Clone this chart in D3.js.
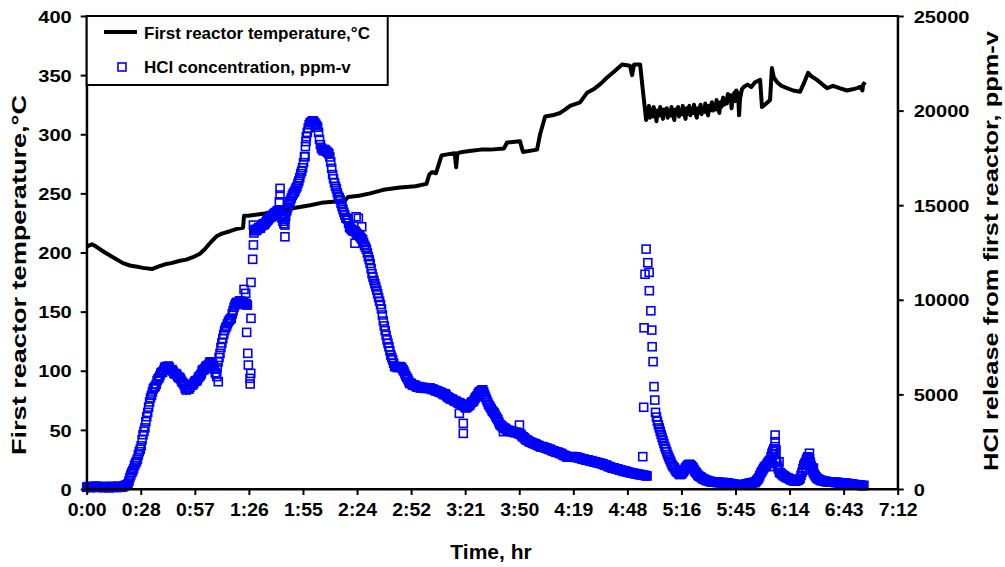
<!DOCTYPE html>
<html>
<head>
<meta charset="utf-8">
<script src="https://cdn.jsdelivr.net/npm/d3@7"></script>
<style>
    body { margin: 0; background: #fff; }
    svg text { font-family: "Liberation Sans", Arial, sans-serif; font-weight: bold; fill: #000; }
</style>
</head>
<body>
<svg id="chart" width="1005" height="567"></svg>
<script>
// Time axis, in minutes from start
const timeTicks = [0, 28.8, 57.6, 86.4, 115.2, 144, 172.8, 201.6, 230.4, 259.2, 288, 316.8, 345.6, 374.4, 403.2, 432];
const timeTickLabels = ['0:00', '0:28', '0:57', '1:26', '1:55', '2:24', '2:52', '3:21', '3:50', '4:19', '4:48', '5:16', '5:45', '6:14', '6:43', '7:12'];
const tempTicks = [0, 50, 100, 150, 200, 250, 300, 350, 400];
const hclTicks = [0, 5000, 10000, 15000, 20000, 25000];

const seriesNames = ['First reactor temperature,\u00B0C', 'HCl concentration, ppm-v'];

// First reactor temperature [minute, degC]
const reactorTemp = [
    [0, 205], [2.8, 207], [5, 205], [9.7, 200], [14, 196], [19.3, 191], [23, 189], [27, 188], [30, 187], [34.8, 186],
    [38, 188], [41.7, 190], [45, 191], [49.7, 193], [53, 194], [56.6, 196], [60.3, 199], [63, 203], [65.7, 208], [67.5, 211],
    [69.4, 214], [72, 216], [76.3, 218], [80, 220], [83.3, 221], [83.8, 231], [86, 231], [90, 232], [95, 233], [100, 235],
    [104, 235], [108.3, 237], [112, 238], [119, 240], [125, 242], [131.2, 243], [137.6, 244], [139.2, 247], [145, 248], [151, 250],
    [158, 253], [166.9, 255], [175, 256], [181, 258], [182.5, 266], [184, 268], [186, 267], [189, 282], [192, 283], [196, 284],
    [196.8, 272], [197.5, 284], [200, 285], [205, 286], [210, 287], [215, 287], [222.3, 288], [223.9, 293], [230.8, 294], [232.4, 285],
    [239.9, 287], [241.5, 300], [244.2, 315], [248, 316], [252.2, 318], [255, 321], [257.5, 324], [262.8, 327], [266.5, 335], [270, 338],
    [274, 343], [277.2, 348], [281, 353], [285.2, 359], [289.4, 358], [290.5, 350], [291.6, 359], [294.8, 359], [296.4, 335], [298, 312],
    [298.5, 322], [299, 316], [299.5, 324], [300, 314], [301, 321], [301.5, 315], [302, 323], [303, 317], [303.5, 311], [304, 320],
    [305, 316], [305.5, 323], [306, 318], [307, 313], [307.5, 321], [308, 317], [309, 322], [309.5, 314], [310, 320], [311, 316],
    [311.5, 323], [312, 318], [313, 312], [313.5, 321], [314, 317], [315, 323], [315.5, 315], [316, 320], [317, 317], [317.5, 324],
    [318, 318], [319, 313], [319.5, 322], [320, 317], [321, 324], [321.5, 316], [322, 321], [323, 318], [323.5, 325], [324, 319],
    [325, 314], [325.5, 322], [326, 318], [327, 325], [327.5, 317], [328, 322], [329, 319], [329.5, 326], [330, 320], [331, 316],
    [331.5, 324], [332, 320], [333, 327], [333.5, 320], [334, 325], [335, 321], [335.5, 329], [336, 323], [337, 318], [337.5, 327],
    [338, 323], [339, 331], [339.5, 325], [340, 330], [341, 326], [341.5, 334], [342, 328], [343, 333], [343.5, 322], [344, 330],
    [345, 335], [345.5, 328], [346, 337], [347, 334], [347.5, 316], [348, 330], [349, 338], [350, 340], [352, 342], [354, 340],
    [356, 344], [358.7, 346], [359.7, 323], [362, 326], [364, 329], [365, 356], [366, 348], [367.8, 344], [370, 341], [373, 339],
    [376.3, 337], [380, 336], [382, 343], [384.3, 352], [386, 349], [389, 346], [392, 342], [394.4, 339], [397.6, 341], [401, 339],
    [405, 337], [408, 338], [410.4, 339], [412, 340], [413.2, 337], [413.6, 342], [414.7, 344]
];

// HCl release, ppm-v. Logger readings on the minute and on the half minute (null = no reading)
const hclStepMin = 1;
const hclBandAStart = 0;
const hclBandA = [
    90, 130, 70, 120, 100, 150, 80, 110, 130, 70,
    120, 100, 60, 140, 90, 120, 80, 150, 100, 110,
    160, 200, 280, 600, 870, 1080, 1370, 1580, 1970, 2280,
    2870, 3230, 3820, 4330, 4820, 5130, 5380, 5530, 5820, 5980,
    6170, 6280, 6470, 6430, 6420, 6280, 6220, 6080, 6050, 5880,
    5820, 5630, 5470, 5230, 5320, 5380, 5520, 5580, 5720, 5780,
    5940, 6080, 6320, 6380, 6520, 6580, 6720, 6630, 6330, 6080,
    6720, 7170, 7720, 8180, 8520, 8730, 8920, 9030, 9420, 9730,
    9870, 9860, 9920, 9830, 9820, 9790, null, null, null, 13650,
    13720, 13740, 13820, 13880, 14020, 14030, 14170, 14280, 14420, 14430,
    14570, 14630, 14720, 14730, 14320, 14020, 14420, 14880, 15170, 15380,
    15620, 15780, 15980, 16280, 16670, 16980, 17570, 18620, 19080, 19360,
    19430, 19420, 19280, 19120, 18480, 18020, 17880, 17920, 17830, 17720,
    17280, 16620, 16180, 15870, 15480, 15290, 14930, 14620, 14330, 14270,
    13830, 13720, 13630, 13620, 13480, 13420, 13280, 13170, 12880, 12670,
    12280, 11920, 11380, 11020, 10680, 10320, 9930, 9520, 8880, 8370,
    7880, 7520, 7080, 6820, 6480, 6470, 6430, 6470, 6380, 6220,
    5980, 5820, 5580, 5570, 5480, 5470, 5380, 5400, 5340, 5370,
    5320, 5350, 5310, 5340, 5260, 5250, 5180, 5170, 5120, 5090,
    5000, 5030, 4870, 4820, 4750, 4730, 4640, 4620, 4540, 4530,
    4430, 4390, 4280, 4360, 4430, 4590, 4630, 4820, 4930, 5120,
    5180, 5240, 4980, 4720, 4480, 4320, 4130, 4020, 3830, 3670,
    3430, 3340, 3230, 3200, 3100, 3090, 3030, 3040, 2980, 3000,
    2930, 2910, 2780, 2720, 2600, 2570, 2480, 2460, 2400, 2390,
    2310, 2290, 2220, 2240, 2180, 2170, 2100, 2090, 2020, 2010,
    1940, 1950, 1880, 1870, 1780, 1760, 1680, 1700, 1690, 1720,
    1670, 1700, 1640, 1630, 1570, 1580, 1520, 1540, 1480, 1500,
    1430, 1440, 1380, 1390, 1340, 1330, 1260, 1250, 1180, 1170,
    1100, 1110, 1050, 1060, 990, 1000, 930, 950, 890, 880,
    850, 840, 810, 800, 770, 760, 730, 720, 700
];
// readings half a minute later than hclBandA
const hclBandAHalf = [
    110, 100, 90, 140, 120, 100, 130, 90, 100, 110,
    90, 130, 100, 110, 120, 90, 130, 110, 90, 130,
    190, 230, 420, 740, 960, 1250, 1460, 1800, 2100, 2600,
    3050, 3560, 4050, 4600, 4950, 5300, 5420, 5720, 5880, 6120,
    6180, 6420, 6380, 6500, 6300, 6310, 6120, 6100, 5950, 5900,
    5700, 5580, 5320, 5300, 5280, 5480, 5500, 5680, 5700, 5900,
    6000, 6250, 6300, 6480, 6500, 6700, 6620, 6500, 6150, 6400,
    6950, 7480, 7950, 8380, 8600, 8850, 8980, 9250, 9600, 9820,
    9780, 9950, 9850, 9900, 9740, null, null, null, null, 13700,
    13660, 13820, 13780, 13950, 13960, 14100, 14220, 14350, 14380, 14520,
    14600, 14700, 14680, 14500, 14150, 14250, 14700, 15050, 15250, 15520,
    15680, 15900, 16150, 16450, 16800, 17250, 18100, 18850, 19250, 19380,
    19460, 19350, 19200, 18850, 18200, 17950, 17950, 17850, 17780, 17550,
    16950, 16400, 16000, 15650, 15400, 15100, 14780, 14480, 14300, 14050,
    13780, 13680, 13650, 13550, 13450, 13350, 13220, 13020, 12780, 12480,
    12120, 11650, 11200, 10850, 10500, 10120, 9750, 9200, 8620, 8120,
    7700, 7300, 6950, 6650, 6460, 6420, 6460, 6430, 6300, 6100,
    5900, 5700, 5600, 5500, 5500, 5420, 5420, 5350, 5380, 5330,
    5350, 5320, 5330, 5290, 5280, 5210, 5200, 5140, 5110, 5050,
    4990, 4950, 4860, 4780, 4760, 4680, 4650, 4580, 4560, 4480,
    4420, 4330, 4320, 4400, 4510, 4610, 4720, 4880, 5030, 5150,
    5230, 5120, 4850, 4600, 4400, 4230, 4080, 3930, 3750, 3550,
    3380, 3290, 3220, 3150, 3100, 3060, 3040, 3000, 2990, 2960,
    2920, 2850, 2750, 2660, 2590, 2520, 2470, 2430, 2400, 2350,
    2300, 2250, 2230, 2210, 2170, 2130, 2100, 2050, 2020, 1970,
    1950, 1910, 1880, 1820, 1770, 1720, 1690, 1700, 1700, 1690,
    1690, 1670, 1640, 1600, 1580, 1550, 1530, 1510, 1490, 1460,
    1440, 1410, 1390, 1360, 1340, 1290, 1260, 1210, 1180, 1130,
    1110, 1080, 1060, 1020, 1000, 960, 940, 920, 890, 860,
    850, 820, 810, 780, 770, 740, 730, 710, 690
];
const hclBandBStart = 303;
const hclBandB = [
    4050, 3580, 3230, 2880, 2560, 2230, 1960, 1690, 1470, 1240,
    1120, 940, 860, 760, 810, 940, 1120, 1240, 1310, 1230,
    1120, 940, 820, 690, 640, 550, 510, 450, 440, 390,
    390, 360, 370, 340, 350, 330, 340, 320, 330, 290,
    290, 250, 250, 220, 230, 200, 230, 220, 260, 270,
    310, 310, 350, 340, 460, 590, 820, 990, 1160, 1240,
    1420, 1520, 1880, 2120, 1580, 1210, 880, 810, 710, 660,
    590, 560, 490, 460, 410, 440, 470, 560, 880, 1260,
    1440, 1700, 1580, 1220, 880, 710, 570, 510, 450, 440,
    400, 400, 370, 380, 360, 370, 340, 350, 320, 330,
    300, 310, 290, 280, 250, 260, 220, 230, 200, 210,
    180, 190
];
const hclBandBHalf = [
    3800, 3400, 3050, 2720, 2400, 2100, 1820, 1580, 1350, 1180,
    1030, 900, 800, 780, 870, 1030, 1180, 1280, 1280, 1180,
    1030, 880, 750, 660, 600, 530, 480, 450, 410, 390,
    370, 370, 350, 350, 340, 340, 330, 330, 310, 290,
    270, 250, 230, 230, 210, 220, 220, 240, 270, 290,
    310, 330, 340, 400, 520, 700, 900, 1080, 1200, 1330,
    1470, 1700, 2000, 1850, 1400, 1050, 850, 760, 690, 620,
    580, 520, 470, 430, 420, 450, 510, 720, 1080, 1350,
    1580, 1650, 1400, 1050, 790, 640, 540, 480, 450, 420,
    400, 380, 380, 370, 360, 350, 350, 330, 330, 310,
    310, 300, 290, 270, 260, 240, 230, 210, 210, 190, 180
];
// fast transients logged in between [minute, ppm-v]
const hclScatter = [
    [69.3, 5940], [70.1, 5670],
    [83.8, 10550], [84.7, 10340], [85.6, 9720], [85.2, 8280], [85.8, 7170], [86.1, 6550], [87.4, 6110], [87.0, 5850],
    [87.1, 5550], [87.5, 9020], [87.5, 10920], [88.4, 12140], [88.8, 12900], [89.1, 13530], [88.8, 13950],
    [103.0, 15890], [103.0, 15540], [102.6, 15180], [104.7, 14390], [105.6, 13950], [105.6, 13330], [106.5, 14750],
    [116.8, 18360], [116.3, 17560],
    [142.9, 12990], [144.7, 14310], [146.5, 13860], [143.5, 14390],
    [198.5, 4000], [200.6, 3470], [200.6, 2940],
    [222.0, 3030], [230.5, 3380],
    [296.2, 1710], [296.7, 4320], [296.9, 8520], [297.4, 11350], [297.98, 12680], [298.9, 11960], [299.6, 11450],
    [299.7, 10480], [300.5, 9420], [301.0, 8400], [301.2, 7520], [301.7, 6730], [302.2, 5410], [302.6, 4700],
    [366.7, 2850], [366.7, 2500], [366.7, 2240], [367.2, 2060], [365.2, 1370], [368.8, 1440], [364.9, 1180], [367.2, 1530],
    [385.0, 1890], [384.4, 1620], [385.3, 1360], [383.2, 1000], [387.1, 1110], [384.4, 1530]
];

// Plot box
const box = { left: 86.7, right: 897.7, top: 16, bottom: 489 };

const svg = d3.select('#chart');

const x = d3.scaleLinear().domain([0, 432]).range([box.left, box.right]);
const yT = d3.scaleLinear().domain([0, 400]).range([box.bottom, box.top]);
const yH = d3.scaleLinear().domain([0, 25000]).range([box.bottom, box.top]);

// stretch text a bit wider, like the original export
function widen(sel, k) {
    sel.each(function () {
        const w = this.getComputedTextLength();
        d3.select(this).attr('textLength', w * k).attr('lengthAdjust', 'spacingAndGlyphs');
    });
}

function styleAxis(g) {
    g.select('.domain').attr('stroke', '#000').attr('stroke-width', 2);
    g.selectAll('.tick line').attr('stroke', '#000').attr('stroke-width', 2);
    g.selectAll('.tick text').attr('font-size', 17).attr('font-family', null).style('font-weight', 'bold');
}

// HCl points
const hclPoints = [];
function addBand(values, start) {
    values.forEach((v, i) => { if (v !== null) hclPoints.push([start + i * hclStepMin, v]); });
}
addBand(hclBandA, hclBandAStart);
addBand(hclBandAHalf, hclBandAStart + hclStepMin / 2);
addBand(hclBandB, hclBandBStart);
addBand(hclBandBHalf, hclBandBStart + hclStepMin / 2);
hclScatter.forEach(d => hclPoints.push(d));

// Temperature line
const line = d3.line()
    .x(d => x(d[0]))
    .y(d => yT(d[1]));

svg.append('path')
    .datum(reactorTemp)
    .attr('fill', 'none')
    .attr('stroke', '#000')
    .attr('stroke-width', 4)
    .attr('stroke-linejoin', 'round')
    .attr('d', line);

const sq = 8;
svg.append('g')
    .selectAll('rect')
    .data(hclPoints)
    .join('rect')
    .attr('x', d => x(d[0]) - sq / 2)
    .attr('y', d => yH(d[1]) - sq / 2)
    .attr('width', sq)
    .attr('height', sq)
    .attr('fill', 'none')
    .attr('stroke', '#0000ff')
    .attr('stroke-width', 1.6);

// Frame
svg.append('rect')
    .attr('x', box.left).attr('y', box.top)
    .attr('width', box.right - box.left).attr('height', box.bottom - box.top)
    .attr('fill', 'none').attr('stroke', '#000').attr('stroke-width', 2);

// Axes
const gx = svg.append('g')
    .attr('transform', 'translate(0,' + box.bottom + ')')
    .call(d3.axisBottom(x).tickValues(timeTicks).tickFormat((d, i) => timeTickLabels[i]).tickSize(6).tickSizeOuter(0).tickPadding(8));
styleAxis(gx);
gx.selectAll('.tick text').attr('font-size', 18);
widen(gx.selectAll('.tick text'), 1.08);

const gl = svg.append('g')
    .attr('transform', 'translate(' + box.left + ',0)')
    .call(d3.axisLeft(yT).tickValues(tempTicks).tickSize(6).tickSizeOuter(0).tickPadding(9));
styleAxis(gl);
gl.selectAll('.tick text').attr('dy', '0.36em');
widen(gl.selectAll('.tick text'), 1.18);

const gr = svg.append('g')
    .attr('transform', 'translate(' + box.right + ',0)')
    .call(d3.axisRight(yH).tickValues(hclTicks).tickFormat(d3.format('d')).tickSize(6).tickSizeOuter(0).tickPadding(10));
styleAxis(gr);
gr.selectAll('.tick text').attr('dy', '0.36em');
widen(gr.selectAll('.tick text'), 1.18);

// Axis titles
svg.append('text')
    .attr('x', 491)
    .attr('y', 559)
    .attr('text-anchor', 'middle')
    .attr('font-size', 21)
    .text('Time, hr');

svg.append('text')
    .attr('transform', 'translate(26,275) rotate(-90)')
    .attr('text-anchor', 'middle')
    .attr('font-size', 20)
    .attr('textLength', 360)
    .attr('lengthAdjust', 'spacingAndGlyphs')
    .text('First reactor temperature,\u00B0C');

svg.append('text')
    .attr('transform', 'translate(998,251) rotate(-90)')
    .attr('text-anchor', 'middle')
    .attr('font-size', 20)
    .attr('textLength', 440)
    .attr('lengthAdjust', 'spacingAndGlyphs')
    .text('HCl release from first reactor, ppm-v');

// Legend
const lg = svg.append('g');
lg.append('rect')
    .attr('x', box.left).attr('y', box.top)
    .attr('width', 301).attr('height', 69)
    .attr('fill', '#fff').attr('stroke', '#000').attr('stroke-width', 2);
lg.append('line')
    .attr('x1', 104).attr('x2', 137).attr('y1', 32).attr('y2', 32)
    .attr('stroke', '#000').attr('stroke-width', 4);
lg.append('rect')
    .attr('x', 122 - sq / 2).attr('y', 67 - sq / 2)
    .attr('width', sq).attr('height', sq)
    .attr('fill', 'none').attr('stroke', '#0000ff').attr('stroke-width', 1.6);
const legText = lg.selectAll('text.leg')
    .data(seriesNames)
    .join('text')
    .attr('class', 'leg')
    .attr('x', 144)
    .attr('y', (d, i) => 39 + i * 34)
    .attr('font-size', 16.5)
    .text(d => d);
widen(legText, 1.03);
</script>
</body>
</html>
